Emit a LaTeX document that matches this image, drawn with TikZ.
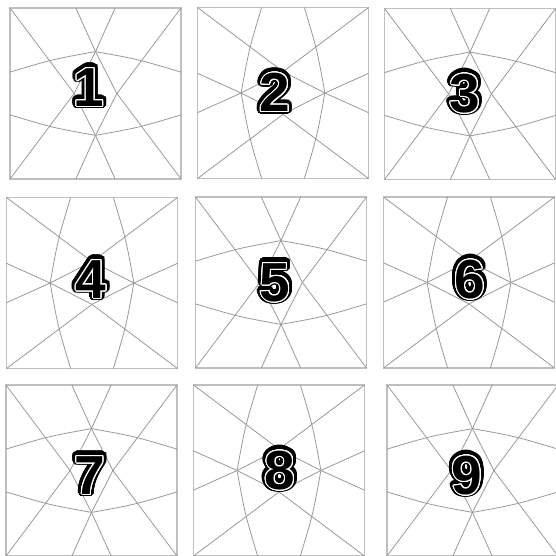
\documentclass[tikz,border=0pt]{standalone}
\usepackage{fontspec}
\newfontfamily\digitfont{Liberation Sans}
\usepackage[copies]{contour}
\contournumber{24}
\tikzset{
  panelbox/.style={draw=black!25, line width=1.2pt},
  gridline/.style={draw=black!40, line width=0.8pt},
  digit/.style={inner sep=0pt, font=\digitfont\bfseries\fontsize{55}{55}\selectfont},
}
\begin{document}
\begin{tikzpicture}[x=1pt,y=-1pt]
\useasboundingbox (0,0) rectangle (556,556);
% panel number / centre / turn / digit position
\foreach \n/\cx/\cy/\rot/\tx/\ty in {1/95.5/93.5/0/89/88, 2/283/93/90/275/93, 3/470/94/0/465/94,
    4/92/283/90/91/280, 5/281/282.5/0/275/283, 6/469/282.5/90/470/280,
    7/91.5/470.5/0/90/476, 8/279/470.5/90/280/471, 9/472.5/470.5/0/467/476}{
  \begin{scope}[shift={(\cx,\cy)},rotate=\rot,scale=85.5]
    \draw[panelbox] (-1,-1) rectangle (1,1);
    \draw[gridline] (-1,-1) -- (-0.25,0) -- (-1,1);
    \draw[gridline] (1,-1) -- (0.25,0) -- (1,1);
    \draw[gridline] (-0.23,-1) -- (0,-0.49) -- (0.25,0) -- (0,0.49) -- (-0.23,1);
    \draw[gridline] (0.23,-1) -- (0,-0.49) -- (-0.25,0) -- (0,0.49) -- (0.23,1);
    \draw[gridline] (-1,-0.25) .. controls (-0.5,-0.4) .. (0,-0.49) .. controls (0.5,-0.4) .. (1,-0.25);
    \draw[gridline] (-1,0.25) .. controls (-0.5,0.4) .. (0,0.49) .. controls (0.5,0.4) .. (1,0.25);
  \end{scope}
  \node[digit] (d\n) at (\tx,\ty) {\contourlength{4pt}\contour{black}{\n}};
  \node[digit] (w\n) at (\tx,\ty) {\contourlength{1pt}\contour{white}{\n}};
}
\end{tikzpicture}
\end{document}
